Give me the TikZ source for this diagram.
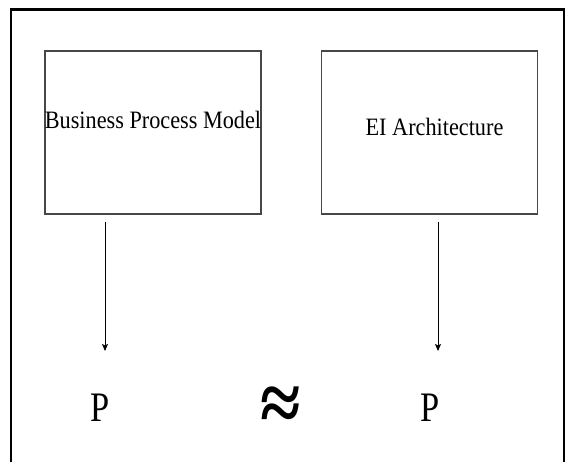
\documentclass[tikz,border=0pt]{standalone}
\usepackage{fontspec}
\setmainfont{Liberation Serif}
\usetikzlibrary{arrows.meta}
\begin{document}
\begin{tikzpicture}[x=1pt,y=-1pt,
  box/.style={draw=black!72, line width=1.1pt, minimum width=216pt,
    minimum height=163pt, inner sep=0pt},
  lbl/.style={inner sep=0pt, anchor=base, font=\fontsize{25}{25}\selectfont},
  sym/.style={inner sep=0pt, anchor=base, font=\fontsize{42}{42}\selectfont},
  conn/.style={line width=0.8pt, -{Stealth[length=7pt,width=6pt,inset=1.5pt]}}]
\useasboundingbox (0,0) rectangle (566,462);
\fill[white] (0,0) rectangle (566,462);
% outer frame, open at the bottom
\draw[line width=2.2pt] (11,470) -- (11,9.5) -- (564,9.5) -- (564,470);
% the two model boxes
\node[box] (bpm) at (153,132.5) {};
\node[box] (eia) at (429.5,132.5) {};
\node[lbl] (bpmt) at (153,128.5) {\scalebox{0.89}[1]{Business Process Model}};
\node[lbl] (eiat) at (434.5,135.5) {\scalebox{0.89}[1]{EI Architecture}};
% results and their relation
\node[sym] (p1) at (100,421.5) {\scalebox{0.82}[1]{P}};
\node[sym] (p2) at (430,421.5) {\scalebox{0.82}[1]{P}};
\node[sym, anchor=center] (apx) at (280.5,409) {\bfseries\scalebox{1.75}[2.0]{≈}};
% connectors
\coordinate (a1s) at (105,222);
\coordinate (a1e) at (105,351);
\coordinate (a2s) at (438,222);
\coordinate (a2e) at (438,351);
\draw[conn] (a1s) -- (a1e);
\draw[conn] (a2s) -- (a2e);
\end{tikzpicture}
\end{document}
